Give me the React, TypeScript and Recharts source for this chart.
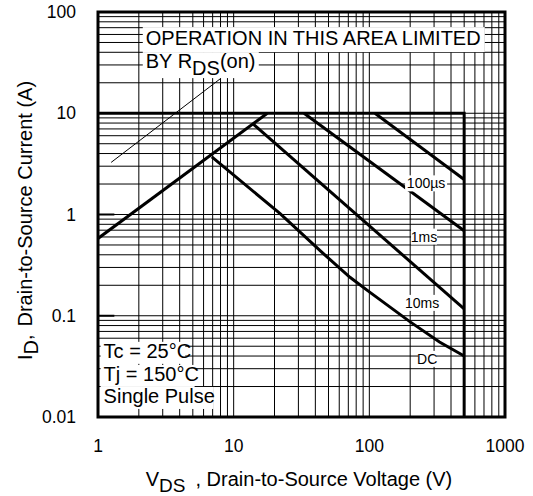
import {
  ComposedChart,
  Line,
  XAxis,
  YAxis,
  ReferenceLine,
  ReferenceArea,
  ReferenceDot,
} from 'recharts'

// MOSFET safe operating area (log-log)
const FONT = '"Liberation Sans", Arial, Helvetica, sans-serif'

const X_TICKS = [1, 10, 100, 1000]
const Y_TICKS = [0.01, 0.1, 1, 10, 100]

// grid: 1..9 per decade
const MANTISSA = [1, 2, 3, 4, 5, 6, 7, 8, 9]
const X_DECADES = [1, 10, 100]
const Y_DECADES = [0.01, 0.1, 1, 10]

// 10 A current limit + 500 V voltage limit
const limitV = [1, 500, 500]
const limitI = [10, 10, 0.01]
// RDS(on) limited region
const rdsV = [1, 17.7]
const rdsI = [0.58, 10]
// pulse curves
const us100V = [110, 500]
const us100I = [10, 2.22]
const ms1V = [33, 500]
const ms1I = [10, 0.69]
const ms10V = [13.8, 500]
const ms10I = [7.9, 0.117]
const dcV = [6.9, 22, 45, 72, 100, 200, 329, 500]
const dcI = [3.7, 1.02, 0.42, 0.24, 0.172, 0.087, 0.055, 0.04]
// thin pointer from the note to the RDS(on) line
const pointerV = [1.25, 8.07]
const pointerI = [3.27, 22.2]

// curve labels
const CURVE_LABELS = ['100µs', '1ms', '10ms', 'DC']
const CURVE_LABEL_V = [262, 253, 245, 267]
const CURVE_LABEL_I = [2.03, 0.605, 0.134, 0.0375]

// condition notes (bottom left)
const NOTE_LINES = ['Tc = 25°C', 'Tj = 150°C', 'Single Pulse']
const NOTE_V = 1.1
const NOTE_I = [0.0384, 0.0227, 0.01376]

const toPts = (vs: number[], is: number[]) => vs.map((v, k) => ({ v, i: is[k] }))

const gridX = X_DECADES.flatMap(d => MANTISSA.map(m => m * d)).concat([1000])
const gridY = Y_DECADES.flatMap(d => MANTISSA.map(m => m * d)).concat([100])

function CurveLabel({ cx, cy, text }: { cx: number; cy: number; text: string }) {
  const w = text.length * 8 + 2
  return (
    <g>
      <rect x={cx - w / 2} y={cy - 8} width={w} height={16} fill="#fff" />
      <text x={cx} y={cy + 5} textAnchor="middle" fontSize={14} fontFamily={FONT} fill="#000">
        {text}
      </text>
    </g>
  )
}

function NoteLine({ cx, cy, text }: { cx: number; cy: number; text: string }) {
  const w = text.length * 9.4
  return (
    <g>
      <rect x={cx - 3} y={cy - 16} width={w} height={22} fill="#fff" />
      <text x={cx} y={cy} fontSize={20} fontFamily={FONT} fill="#000">
        {text}
      </text>
    </g>
  )
}

function AreaNote({ cx, cy }: { cx: number; cy: number }) {
  return (
    <g fontFamily={FONT} fontSize={20} fill="#000">
      <rect x={cx - 3} y={cy - 18} width={342} height={25} fill="#fff" />
      <rect x={cx - 3} y={cy + 7} width={116} height={26} fill="#fff" />
      <text x={cx} y={cy}>OPERATION IN THIS AREA LIMITED</text>
      <text x={cx} y={cy + 23}>
        BY R<tspan dy={7}>DS</tspan>
        <tspan dy={-7}>(on)</tspan>
      </text>
    </g>
  )
}

function YLabel({ viewBox }: any) {
  const x = 32
  const y = (viewBox?.y ?? 12) + (viewBox?.height ?? 405) / 2 + 6
  return (
    <text
      x={x}
      y={y}
      transform={`rotate(-90, ${x}, ${y})`}
      textAnchor="middle"
      fontSize={20}
      fontFamily={FONT}
      fill="#000"
    >
      I<tspan dy={6}>D</tspan>
      <tspan dy={-6}>,</tspan>
      <tspan dx={8}>Drain-to-Source Current (A)</tspan>
    </text>
  )
}

function XLabel() {
  return (
    <text x={299} y={486} textAnchor="middle" fontSize={20} fontFamily={FONT} fill="#000">
      V<tspan dy={6} fontSize={19}>DS</tspan>
      <tspan dy={-6} dx={10}>, Drain-to-Source Voltage (V)</tspan>
    </text>
  )
}

const tickStyle = { fontSize: 17.5, fill: '#000', fontFamily: FONT }

export default function App() {
  return (
    <div style={{ position: 'absolute', left: 0, top: 0, width: 533, height: 496, background: '#fff' }}>
      <ComposedChart width={533} height={496} margin={{ top: 12, right: 28, bottom: 0, left: 0 }}>
        <XAxis
          dataKey="v"
          type="number"
          scale="log"
          domain={[1, 1000]}
          ticks={X_TICKS}
          allowDataOverflow
          axisLine={false}
          tickLine={false}
          tickSize={0}
          tickMargin={23}
          height={79}
          tick={tickStyle}
        />
        <YAxis
          dataKey="i"
          type="number"
          scale="log"
          domain={[0.01, 100]}
          ticks={Y_TICKS}
          allowDataOverflow
          axisLine={false}
          tickLine={false}
          tickSize={0}
          tickMargin={22}
          width={98}
          tick={tickStyle}
          label={<YLabel />}
        />

        {/* log grid */}
        {gridX.map(v => (
          <ReferenceLine key={'gx' + v} x={v} stroke="#000" strokeWidth={1} />
        ))}
        {gridY.map(v => (
          <ReferenceLine key={'gy' + v} y={v} stroke="#000" strokeWidth={1} />
        ))}
        {/* short heavy ticks on the left edge */}
        <ReferenceLine segment={[{ x: 1, y: 1 }, { x: 1.32, y: 1 }]} stroke="#000" strokeWidth={2} />
        <ReferenceLine segment={[{ x: 1, y: 0.1 }, { x: 1.32, y: 0.1 }]} stroke="#000" strokeWidth={2} />

        <Line data={toPts(limitV, limitI)} dataKey="i" stroke="#000" strokeWidth={3} dot={false} isAnimationActive={false} />
        <Line data={toPts(rdsV, rdsI)} dataKey="i" stroke="#000" strokeWidth={3} dot={false} isAnimationActive={false} />
        <Line data={toPts(us100V, us100I)} dataKey="i" stroke="#000" strokeWidth={3} dot={false} isAnimationActive={false} />
        <Line data={toPts(ms1V, ms1I)} dataKey="i" stroke="#000" strokeWidth={3} dot={false} isAnimationActive={false} />
        <Line data={toPts(ms10V, ms10I)} dataKey="i" stroke="#000" strokeWidth={3} dot={false} isAnimationActive={false} />
        <Line data={toPts(dcV, dcI)} dataKey="i" stroke="#000" strokeWidth={3} dot={false} isAnimationActive={false} />
        <Line data={toPts(pointerV, pointerI)} dataKey="i" stroke="#000" strokeWidth={1} dot={false} isAnimationActive={false} />

        {/* frame */}
        <ReferenceArea x1={1} x2={1000} y1={0.01} y2={100} fill="none" fillOpacity={0} stroke="#000" strokeWidth={3} />

        {CURVE_LABELS.map((t, k) => (
          <ReferenceDot
            key={t}
            x={CURVE_LABEL_V[k]}
            y={CURVE_LABEL_I[k]}
            r={0}
            shape={(p: any) => <CurveLabel cx={p.cx} cy={p.cy} text={t} />}
          />
        ))}
        {NOTE_LINES.map((t, k) => (
          <ReferenceDot
            key={t}
            x={NOTE_V}
            y={NOTE_I[k]}
            r={0}
            shape={(p: any) => <NoteLine cx={p.cx} cy={p.cy} text={t} />}
          />
        ))}
        <ReferenceDot x={2.25} y={47.1} r={0} shape={(p: any) => <AreaNote cx={p.cx} cy={p.cy} />} />

        <XLabel />
      </ComposedChart>
    </div>
  )
}
